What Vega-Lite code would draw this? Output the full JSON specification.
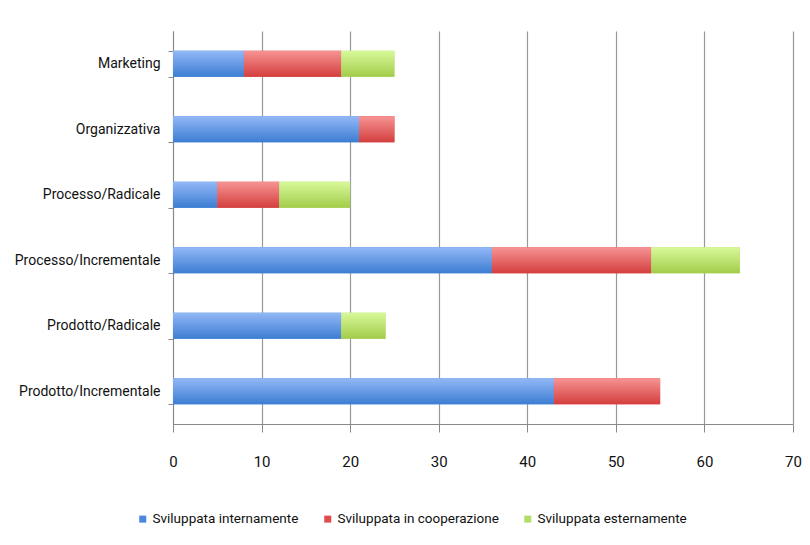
{
  "$schema": "https://vega.github.io/schema/vega-lite/v6.json",
  "width": 620,
  "height": 393,
  "autosize": {"type": "none"},
  "padding": {"left": 173, "top": 31, "right": 17, "bottom": 121},
  "background": "white",
  "data": {
    "values": [
      {"cat": "Marketing", "tipo": "Sviluppata internamente", "ord": 1, "v": 8},
      {"cat": "Marketing", "tipo": "Sviluppata in cooperazione", "ord": 2, "v": 11},
      {"cat": "Marketing", "tipo": "Sviluppata esternamente", "ord": 3, "v": 6},
      {"cat": "Organizzativa", "tipo": "Sviluppata internamente", "ord": 1, "v": 21},
      {"cat": "Organizzativa", "tipo": "Sviluppata in cooperazione", "ord": 2, "v": 4},
      {"cat": "Organizzativa", "tipo": "Sviluppata esternamente", "ord": 3, "v": 0},
      {"cat": "Processo/Radicale", "tipo": "Sviluppata internamente", "ord": 1, "v": 5},
      {"cat": "Processo/Radicale", "tipo": "Sviluppata in cooperazione", "ord": 2, "v": 7},
      {"cat": "Processo/Radicale", "tipo": "Sviluppata esternamente", "ord": 3, "v": 8},
      {"cat": "Processo/Incrementale", "tipo": "Sviluppata internamente", "ord": 1, "v": 36},
      {"cat": "Processo/Incrementale", "tipo": "Sviluppata in cooperazione", "ord": 2, "v": 18},
      {"cat": "Processo/Incrementale", "tipo": "Sviluppata esternamente", "ord": 3, "v": 10},
      {"cat": "Prodotto/Radicale", "tipo": "Sviluppata internamente", "ord": 1, "v": 19},
      {"cat": "Prodotto/Radicale", "tipo": "Sviluppata in cooperazione", "ord": 2, "v": 0},
      {"cat": "Prodotto/Radicale", "tipo": "Sviluppata esternamente", "ord": 3, "v": 5},
      {"cat": "Prodotto/Incrementale", "tipo": "Sviluppata internamente", "ord": 1, "v": 43},
      {"cat": "Prodotto/Incrementale", "tipo": "Sviluppata in cooperazione", "ord": 2, "v": 12},
      {"cat": "Prodotto/Incrementale", "tipo": "Sviluppata esternamente", "ord": 3, "v": 0}
    ]
  },
  "transform": [
    {"stack": "v", "groupby": ["cat"], "sort": [{"field": "ord", "order": "ascending"}], "as": ["x0", "x1"]}
  ],
  "encoding": {
    "y": {
      "field": "cat",
      "type": "nominal",
      "sort": ["Marketing", "Organizzativa", "Processo/Radicale", "Processo/Incrementale", "Prodotto/Radicale", "Prodotto/Incrementale"],
      "scale": {"paddingInner": 0.6, "paddingOuter": 0.3},
      "axis": {
        "title": null,
        "tickBand": "extent",
        "tickSize": 5,
        "tickColor": "#888888",
        "domainColor": "#888888",
        "labelFontSize": 14,
        "labelFont": "Roboto, sans-serif",
        "labelColor": "#111111",
        "labelPadding": 8,
        "labelLimit": 300
      }
    },
    "x": {
      "field": "x0",
      "type": "quantitative",
      "scale": {"domain": [0, 70], "nice": false},
      "axis": {
        "title": null,
        "values": [0, 10, 20, 30, 40, 50, 60, 70],
        "grid": true,
        "gridColor": "#999999",
        "gridWidth": 1.2,
        "tickSize": 8,
        "tickColor": "#888888",
        "domainColor": "#888888",
        "labelFontSize": 15,
        "labelFont": "Roboto, sans-serif",
        "labelColor": "#111111",
        "labelPadding": 22,
        "labelFlush": false
      }
    },
    "x2": {"field": "x1"}
  },
  "layer": [
    {
      "mark": {"type": "bar"},
      "encoding": {
        "color": {
          "field": "tipo",
          "type": "nominal",
          "scale": {
            "domain": ["Sviluppata internamente", "Sviluppata in cooperazione", "Sviluppata esternamente"],
            "range": ["#4a86dc", "#df4c4c", "#b2dd68"]
          },
          "legend": {
            "title": null,
            "orient": "none",
            "direction": "horizontal",
            "legendX": -37,
            "legendY": 481,
            "symbolType": "square",
            "symbolSize": 49,
            "symbolStrokeWidth": 0,
            "labelFontSize": 13.5,
            "labelFont": "Roboto, sans-serif",
            "labelColor": "#111111",
            "labelOffset": 3,
            "labelLimit": 300,
            "columnPadding": 22
          }
        }
      }
    },
    {
      "transform": [{"filter": "datum.ord == 1"}],
      "mark": {"type": "bar", "color": {"gradient": "linear", "x1": 0, "y1": 0, "x2": 0, "y2": 1, "stops": [{"offset": 0, "color": "#93b8f7"}, {"offset": 1, "color": "#3c7dd2"}]}}
    },
    {
      "transform": [{"filter": "datum.ord == 2"}],
      "mark": {"type": "bar", "color": {"gradient": "linear", "x1": 0, "y1": 0, "x2": 0, "y2": 1, "stops": [{"offset": 0, "color": "#f79494"}, {"offset": 1, "color": "#d43e3e"}]}}
    },
    {
      "transform": [{"filter": "datum.ord == 3"}],
      "mark": {"type": "bar", "color": {"gradient": "linear", "x1": 0, "y1": 0, "x2": 0, "y2": 1, "stops": [{"offset": 0, "color": "#d8f99a"}, {"offset": 1, "color": "#a2cc4a"}]}}
    }
  ],
  "config": {"view": {"stroke": null}}
}
